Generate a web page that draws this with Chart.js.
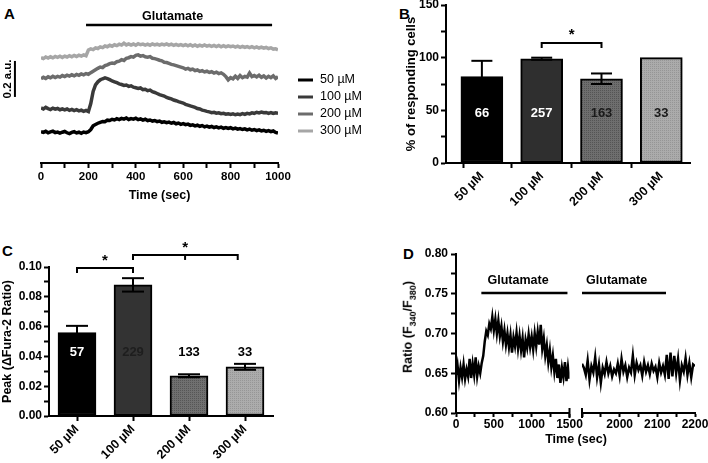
<!DOCTYPE html>
<html>
<head>
<meta charset="utf-8">
<script src="https://cdn.jsdelivr.net/npm/chart.js@4.4.0/dist/chart.umd.min.js"></script>
<style>
  body { margin: 0; background: #fff; width: 708px; height: 463px; position: relative; overflow: hidden; font-family: "Liberation Sans", Arial, sans-serif; }
  canvas { position: absolute; }
  .letra { position: absolute; font-weight: bold; font-size: 15px; line-height: 15px; }
  .txt { position: absolute; font-weight: bold; font-size: 12.5px; white-space: nowrap; transform: translate(-50%, -50%); }
  .txt sub { font-size: 9px; }
</style>
</head>
<body>
<div class="letra" style="left:4px;top:6px">A</div>
<div class="letra" style="left:399px;top:6px">B</div>
<div class="letra" style="left:2px;top:243px">C</div>
<div class="letra" style="left:403px;top:246px">D</div>

<canvas id="chartA" width="378" height="210" style="left:0;top:0"></canvas>
<canvas id="chartB" width="348" height="240" style="left:360px;top:0"></canvas>
<canvas id="chartC" width="360" height="223" style="left:0;top:240px"></canvas>
<canvas id="chartD1" width="232" height="223" style="left:360px;top:240px"></canvas>
<canvas id="chartD2" width="133" height="223" style="left:575px;top:240px"></canvas>

<div class="txt" style="left:409px;top:327px;transform:translate(-50%,-50%) rotate(-90deg)">Ratio (F<sub>340</sub>/F<sub>380</sub>)</div>
<div class="txt" style="left:576px;top:439px">Time (sec)</div>

<script>
const FUENTE = '"Liberation Sans", Arial, sans-serif';
Chart.defaults.font.family = FUENTE;
Chart.defaults.color = '#000';

// ---------- Panel A: trazas ----------
const tiempoA = [0,10,20,30,40,50,60,70,80,90,100,110,120,130,140,150,160,170,180,190,200,210,220,230,240,250,260,270,280,290,300,310,320,330,340,350,360,370,380,390,400,410,420,430,440,450,460,470,480,490,500,510,520,530,540,550,560,570,580,590,600,610,620,630,640,650,660,670,680,690,700,710,720,730,740,750,760,770,780,790,800,810,820,830,840,850,860,870,880,890,900,910,920,930,940,950,960,970,980,990,1000];

const traza50 = [0.174,0.170,0.176,0.168,0.173,0.177,0.169,0.172,0.166,0.171,
  0.175,0.168,0.163,0.170,0.174,0.167,0.171,0.165,0.172,0.169,
  0.174,0.186,0.207,0.214,0.221,0.226,0.231,0.229,0.238,0.236,
  0.243,0.239,0.246,0.241,0.248,0.244,0.250,0.242,0.247,0.244,
  0.249,0.241,0.245,0.238,0.243,0.236,0.239,0.233,0.236,0.230,
  0.233,0.226,0.229,0.224,0.227,0.221,0.225,0.218,0.222,0.215,
  0.219,0.213,0.216,0.209,0.212,0.206,0.210,0.204,0.208,0.201,
  0.205,0.199,0.203,0.197,0.201,0.195,0.199,0.193,0.197,0.192,
  0.196,0.190,0.194,0.188,0.191,0.186,0.190,0.184,0.188,0.182,
  0.186,0.180,0.184,0.178,0.182,0.176,0.180,0.174,0.178,0.170,
  0.166];

const traza100 = [0.306,0.300,0.309,0.302,0.297,0.305,0.299,0.303,0.296,0.301,
  0.295,0.300,0.293,0.298,0.291,0.296,0.290,0.294,0.287,0.292,
  0.286,0.330,0.398,0.434,0.451,0.462,0.468,0.473,0.469,0.463,
  0.456,0.451,0.446,0.440,0.436,0.431,0.433,0.426,0.429,0.421,
  0.418,0.414,0.417,0.408,0.410,0.402,0.405,0.396,0.392,0.386,
  0.380,0.376,0.372,0.364,0.360,0.356,0.350,0.346,0.341,0.337,
  0.333,0.326,0.322,0.317,0.313,0.309,0.303,0.300,0.294,0.291,
  0.287,0.284,0.280,0.282,0.277,0.279,0.274,0.276,0.271,0.274,
  0.270,0.273,0.268,0.272,0.269,0.274,0.270,0.276,0.273,0.279,
  0.276,0.282,0.278,0.283,0.279,0.281,0.276,0.280,0.275,0.279,
  0.277];

const traza200 = [0.468,0.476,0.470,0.479,0.473,0.482,0.475,0.481,0.477,0.486,
  0.480,0.488,0.483,0.490,0.484,0.492,0.487,0.495,0.490,0.497,
  0.493,0.502,0.510,0.518,0.526,0.533,0.530,0.541,0.545,0.552,
  0.556,0.553,0.563,0.566,0.574,0.570,0.582,0.585,0.591,0.588,
  0.598,0.601,0.594,0.597,0.590,0.588,0.591,0.582,0.580,0.576,
  0.571,0.568,0.560,0.558,0.553,0.548,0.545,0.541,0.537,0.533,
  0.529,0.522,0.526,0.518,0.522,0.513,0.517,0.509,0.513,0.506,
  0.510,0.503,0.507,0.500,0.505,0.497,0.501,0.493,0.480,0.462,
  0.474,0.468,0.482,0.470,0.486,0.474,0.481,0.477,0.500,0.480,
  0.486,0.478,0.488,0.476,0.484,0.472,0.482,0.474,0.484,0.470,
  0.479];

const traza300 = [0.586,0.580,0.589,0.583,0.590,0.584,0.592,0.587,0.593,0.586,
  0.594,0.589,0.596,0.590,0.598,0.592,0.599,0.594,0.601,0.596,
  0.628,0.634,0.630,0.640,0.636,0.645,0.641,0.650,0.646,0.654,
  0.649,0.657,0.652,0.660,0.655,0.666,0.656,0.662,0.655,0.661,
  0.654,0.663,0.657,0.661,0.655,0.660,0.654,0.662,0.656,0.660,
  0.655,0.661,0.656,0.662,0.655,0.660,0.654,0.659,0.653,0.658,
  0.652,0.658,0.651,0.657,0.650,0.656,0.649,0.655,0.650,0.656,
  0.649,0.654,0.648,0.653,0.647,0.653,0.646,0.652,0.645,0.651,
  0.646,0.650,0.644,0.649,0.643,0.648,0.642,0.647,0.641,0.646,
  0.640,0.645,0.639,0.644,0.638,0.642,0.636,0.640,0.633,0.635,
  0.628];

const etiquetasA = ['50 µM', '100 µM', '200 µM', '300 µM'];
const coloresA = ['#000000', '#3a3a3a', '#6c6c6c', '#a6a6a6'];
const glutamatoA = [190, 975];

// ---------- Panel B: % de células que responden ----------
const categorias = ['50 µM', '100 µM', '200 µM', '300 µM'];
const respuestaB = [82, 99, 80, 100];
const errorB = [15, 1, 5, 0];
const nB = ['66', '257', '163', '33'];

// ---------- Panel C: pico ΔFura-2 ----------
const picoC = [0.056, 0.088, 0.027, 0.033];
const errorC = [0.0045, 0.0045, 0.001, 0.002];
const nC = ['57', '229', '133', '33'];

// ---------- Panel D: traza con eje cortado ----------
const tiempoD1 = [0,20,40,60,80,100,120,140,160,180,200,220,240,260,280,300,320,340,360,380,400,420,440,460,480,500,520,540,560,580,600,620,640,660,680,700,720,740,760,780,800,820,840,860,880,900,920,940,960,980,1000,1020,1040,1060,1080,1100,1120,1140,1160,1180,1200,1220,1240,1260,1280,1300,1320,1340,1360,1380,1400,1420,1440,1460,1480,1500];
const trazaD1 = [0.648,0.660,0.641,0.657,0.645,0.661,0.643,0.655,0.646,0.668,
  0.644,0.662,0.648,0.670,0.646,0.659,0.650,0.663,0.672,0.690,
  0.703,0.698,0.712,0.706,0.721,0.704,0.718,0.700,0.716,0.697,
  0.709,0.690,0.704,0.686,0.700,0.683,0.698,0.676,0.695,0.684,
  0.701,0.681,0.697,0.679,0.694,0.670,0.692,0.682,0.699,0.683,
  0.696,0.680,0.700,0.684,0.702,0.686,0.711,0.681,0.694,0.672,
  0.685,0.664,0.679,0.658,0.672,0.652,0.668,0.644,0.661,0.638,
  0.657,0.645,0.664,0.640,0.658,0.643];
const tiempoD2 = [1900,1905,1910,1915,1920,1925,1930,1935,1940,1945,1950,1955,1960,1965,1970,1975,1980,1985,1990,1995,2000,2005,2010,2015,2020,2025,2030,2035,2040,2045,2050,2055,2060,2065,2070,2075,2080,2085,2090,2095,2100,2105,2110,2115,2120,2125,2130,2135,2140,2145,2150,2155,2160,2165,2170,2175,2180,2185,2190,2195,2200];
const trazaD2 = [0.662,0.657,0.648,0.666,0.642,0.659,0.651,0.670,0.645,0.661,
  0.638,0.657,0.649,0.664,0.650,0.659,0.646,0.655,0.650,0.662,
  0.647,0.668,0.652,0.660,0.645,0.657,0.651,0.672,0.648,0.663,
  0.654,0.660,0.647,0.664,0.652,0.660,0.649,0.662,0.653,0.658,
  0.645,0.663,0.651,0.659,0.648,0.673,0.643,0.676,0.646,0.672,
  0.650,0.668,0.641,0.660,0.652,0.669,0.648,0.663,0.645,0.661,
  0.659];
const glutamatoD1 = [335, 1473];
const glutamatoD2 = [1900, 2123];
const centroTextoD = [820, 1992];

// ---------- utilidades ----------
function fuente(size, weight) {
  return { family: FUENTE, size: size, weight: weight || 'bold' };
}

// relleno punteado como el de GraphPad
function patron(idCanvas, fondo, punto) {
  const c = document.createElement('canvas');
  c.width = 2; c.height = 2;
  const g = c.getContext('2d');
  g.fillStyle = fondo; g.fillRect(0, 0, 2, 2);
  g.fillStyle = punto; g.fillRect(0, 0, 1, 1);
  return document.getElementById(idCanvas).getContext('2d').createPattern(c, 'repeat');
}

const ejeNegro = { display: true, color: '#000', width: 2 };
const marcas = { drawOnChartArea: false, drawTicks: true, tickLength: 5, tickColor: '#000', tickWidth: 2 };

function linea(ctx, x1, y1, x2, y2) {
  ctx.beginPath(); ctx.moveTo(x1, y1); ctx.lineTo(x2, y2); ctx.stroke();
}

function texto(ctx, t, x, y, size, color, weight) {
  ctx.font = (weight || 'bold') + ' ' + size + 'px ' + FUENTE;
  ctx.fillStyle = color || '#000';
  ctx.textAlign = 'center'; ctx.textBaseline = 'middle';
  ctx.fillText(t, x, y);
}

// barras de error + numeros dentro de las barras
function errores(valores, errs, ns, colNs, yNum, capW) {
  return {
    id: 'errores',
    afterDatasetsDraw(chart) {
      const { ctx, scales: { y } } = chart;
      const meta = chart.getDatasetMeta(0);
      ctx.save();
      ctx.strokeStyle = '#000'; ctx.lineWidth = 2;
      meta.data.forEach((bar, i) => {
        const v = valores[i];
        if (errs[i] > 0) {
          const yA = y.getPixelForValue(v + errs[i]);
          const yB = y.getPixelForValue(v - errs[i]);
          linea(ctx, bar.x, yA, bar.x, yB);
          linea(ctx, bar.x - capW / 2, yA, bar.x + capW / 2, yA);
          linea(ctx, bar.x - capW / 2, yB, bar.x + capW / 2, yB);
        }
        texto(ctx, ns[i], bar.x, y.getPixelForValue(yNum), 13, colNs[i]);
      });
      ctx.restore();
    }
  };
}

// ---------- Chart A ----------
const pluginA = {
  id: 'extrasA',
  afterDraw(chart) {
    const { ctx, scales: { x, y }, chartArea } = chart;
    ctx.save();
    ctx.strokeStyle = '#000'; ctx.lineWidth = 2.5;
    const yb = y.getPixelForValue(0.767);
    linea(ctx, x.getPixelForValue(glutamatoA[0]), yb, x.getPixelForValue(glutamatoA[1]), yb);
    texto(ctx, 'Glutamate', x.getPixelForValue(555), y.getPixelForValue(0.814), 12.5);
    // barra de escala 0.2 a.u.
    ctx.lineWidth = 2;
    const xe = x.getPixelForValue(-110);
    linea(ctx, xe, y.getPixelForValue(0.367), xe, y.getPixelForValue(0.567));
    ctx.save();
    ctx.translate(x.getPixelForValue(-140), y.getPixelForValue(0.467));
    ctx.rotate(-Math.PI / 2);
    texto(ctx, '0.2 a.u.', 0, 0, 11.5);
    ctx.restore();
    // leyenda
    chart.data.datasets.forEach((ds, i) => {
      const yy = chartArea.top + 50 + i * 17;
      ctx.strokeStyle = ds.borderColor; ctx.lineWidth = 3;
      linea(ctx, chartArea.right + 20, yy, chartArea.right + 35, yy);
      ctx.font = '12.5px ' + FUENTE; ctx.fillStyle = '#000';
      ctx.textAlign = 'left'; ctx.textBaseline = 'middle';
      ctx.fillText(ds.label, chartArea.right + 42, yy);
    });
    ctx.restore();
  }
};

new Chart(document.getElementById('chartA'), {
  type: 'line',
  data: {
    datasets: [traza50, traza100, traza200, traza300].map((tr, i) => ({
      label: etiquetasA[i],
      data: tiempoA.map((t, k) => ({ x: t, y: tr[k] })),
      borderColor: coloresA[i],
      borderWidth: 3.5,
      pointRadius: 0,
      tension: 0
    }))
  },
  options: {
    responsive: false, animation: false,
    layout: { padding: { left: 41, right: 100, top: 30, bottom: 0 } },
    plugins: { legend: { display: false }, tooltip: { enabled: false } },
    scales: {
      x: {
        type: 'linear', min: 0, max: 1000,
        afterFit: s => { s.height = 47; s.paddingLeft = 0; s.paddingRight = 0; },
        border: ejeNegro, grid: marcas,
        ticks: { stepSize: 100, autoSkip: false, maxRotation: 0, padding: 2, font: fuente(11.5),
          callback: v => (v % 200 === 0 ? String(v) : '') },
        title: { display: true, text: 'Time (sec)', font: fuente(12.5), padding: { top: 0, bottom: 7 } }
      },
      y: { display: false, min: 0, max: 0.739 }
    }
  },
  plugins: [pluginA]
});

// ---------- Chart B ----------
const pluginB = {
  id: 'corcheteB',
  afterDraw(chart) {
    const { ctx, scales: { x, y } } = chart;
    const yc = y.getPixelForValue(114);
    const x1 = x.getPixelForValue(1), x2 = x.getPixelForValue(2);
    ctx.save();
    ctx.strokeStyle = '#000'; ctx.lineWidth = 2;
    ctx.beginPath(); ctx.moveTo(x1, yc + 5); ctx.lineTo(x1, yc); ctx.lineTo(x2, yc); ctx.lineTo(x2, yc + 5); ctx.stroke();
    texto(ctx, '*', (x1 + x2) / 2, yc - 8, 15);
    ctx.restore();
  }
};

new Chart(document.getElementById('chartB'), {
  type: 'bar',
  data: {
    datasets: [{
      data: respuestaB.map((v, i) => ({ x: i, y: v })),
      backgroundColor: ['#000000', '#2f2f2f', patron('chartB', '#6e6e6e', '#545454'), patron('chartB', '#ababab', '#959595')],
      borderColor: '#000', borderWidth: 2, borderSkipped: false,
      barThickness: 42
    }]
  },
  options: {
    responsive: false, animation: false,
    layout: { padding: { left: 0, right: 18, top: 5, bottom: 0 } },
    plugins: { legend: { display: false }, tooltip: { enabled: false } },
    scales: {
      x: {
        type: 'linear', min: -0.6, max: 3.48, offset: false,
        afterFit: s => { s.height = 77; s.paddingLeft = 0; s.paddingRight = 0; },
        border: ejeNegro,
        grid: Object.assign({}, marcas, { tickColor: c => (c.tick && Number.isInteger(c.tick.value) ? '#000' : 'rgba(0,0,0,0)') }),
        ticks: { stepSize: 1, autoSkip: false, minRotation: 45, maxRotation: 45, padding: 1, font: fuente(12.5),
          callback: v => (Number.isInteger(v) ? categorias[v] : '') }
      },
      y: {
        min: 0, max: 150,
        afterFit: s => { s.width = 86; s.paddingTop = 0; s.paddingBottom = 0; },
        border: ejeNegro, grid: marcas,
        ticks: { stepSize: 25, autoSkip: false, padding: 2, font: fuente(12),
          callback: v => (v % 50 === 0 ? String(v) : '') },
        title: { display: true, text: '% of responding cells', font: fuente(13), padding: { top: 44, bottom: 0 } }
      }
    }
  },
  plugins: [errores(respuestaB, errorB, nB, ['#fff', '#fff', '#1a1a1a', '#1a1a1a'], 47, 21), pluginB]
});

// ---------- Chart C ----------
const corchetesC = [
  { desde: 0, hasta: 1, medio: null, valor: 0.0993 },
  { desde: 1, hasta: 2.87, medio: 1.93, valor: 0.1081 }
];
const pluginC = {
  id: 'corchetesC',
  afterDraw(chart) {
    const { ctx, scales: { x, y } } = chart;
    ctx.save();
    ctx.strokeStyle = '#000'; ctx.lineWidth = 2;
    corchetesC.forEach(c => {
      const yc = y.getPixelForValue(c.valor);
      const x1 = x.getPixelForValue(c.desde), x2 = x.getPixelForValue(c.hasta);
      ctx.beginPath(); ctx.moveTo(x1, yc + 5); ctx.lineTo(x1, yc); ctx.lineTo(x2, yc); ctx.lineTo(x2, yc + 5); ctx.stroke();
      let xs = (x1 + x2) / 2;
      if (c.medio !== null) {
        xs = x.getPixelForValue(c.medio);
        linea(ctx, xs, yc, xs, yc + 5);
      }
      texto(ctx, '*', xs, yc - 7, 15);
    });
    ctx.restore();
  }
};

new Chart(document.getElementById('chartC'), {
  type: 'bar',
  data: {
    labels: categorias,
    datasets: [{
      data: picoC,
      backgroundColor: ['#000000', '#333333', patron('chartC', '#707070', '#565656'), patron('chartC', '#acacac', '#969696')],
      borderColor: '#000', borderWidth: 2, borderSkipped: false,
      barThickness: 38
    }]
  },
  options: {
    responsive: false, animation: false,
    layout: { padding: { left: 0, right: 87, top: 27, bottom: 0 } },
    plugins: { legend: { display: false }, tooltip: { enabled: false } },
    scales: {
      x: {
        afterFit: s => { s.height = 47; s.paddingLeft = 0; s.paddingRight = 0; },
        border: ejeNegro,
        grid: Object.assign({}, marcas, { offset: false }),
        ticks: { autoSkip: false, minRotation: 45, maxRotation: 45, padding: 1, font: fuente(12.5) }
      },
      y: {
        min: 0, max: 0.1,
        afterFit: s => { s.width = 49; s.paddingTop = 0; s.paddingBottom = 0; },
        border: ejeNegro, grid: marcas,
        ticks: { stepSize: 0.01, autoSkip: false, padding: 2, font: fuente(12),
          callback: v => (Math.round(v * 100) % 2 === 0 ? v.toFixed(2) : '') },
        title: { display: true, text: 'Peak (ΔFura-2 Ratio)', font: fuente(12.5), padding: { top: 0, bottom: 0 } }
      }
    }
  },
  plugins: [errores(picoC, errorC, nC, ['#fff', '#1e1e1e', '#000', '#000'], 0.043, 22), pluginC]
});

// ---------- Chart D (dos tramos) ----------
function pluginGlutamato(periodo, centroTexto, lado) {
  return {
    id: 'glutamato',
    afterDraw(chart) {
      const { ctx, scales: { x, y }, chartArea } = chart;
      ctx.save();
      ctx.strokeStyle = '#000'; ctx.lineWidth = 2.5;
      const yb = y.getPixelForValue(0.751);
      linea(ctx, x.getPixelForValue(periodo[0]), yb, x.getPixelForValue(periodo[1]), yb);
      texto(ctx, 'Glutamate', x.getPixelForValue(centroTexto), y.getPixelForValue(0.766), 12.5);
      // marca del corte del eje
      ctx.lineWidth = 2;
      const xc = lado === 'derecha' ? chartArea.right : chartArea.left;
      linea(ctx, xc, chartArea.bottom - 5, xc, chartArea.bottom + 5);
      ctx.restore();
    }
  };
}

const escalaYD = { min: 0.6, max: 0.8 };
const marcasD = Object.assign({}, marcas, { tickLength: 4 });

new Chart(document.getElementById('chartD1'), {
  type: 'line',
  data: {
    datasets: [{ data: tiempoD1.map((t, k) => ({ x: t, y: trazaD1[k] })), borderColor: '#000', borderWidth: 2.5, pointRadius: 0, tension: 0 }]
  },
  options: {
    responsive: false, animation: false,
    layout: { padding: { left: 0, right: 22.5, top: 14, bottom: 0 } },
    plugins: { legend: { display: false }, tooltip: { enabled: false } },
    scales: {
      x: {
        type: 'linear', min: 0, max: 1500,
        afterFit: s => { s.height = 50; s.paddingLeft = 0; s.paddingRight = 0; },
        border: ejeNegro, grid: marcasD,
        ticks: { stepSize: 250, autoSkip: false, maxRotation: 0, padding: 0, font: fuente(12),
          callback: v => (v % 500 === 0 ? String(v) : '') }
      },
      y: {
        min: escalaYD.min, max: escalaYD.max,
        afterFit: s => { s.width = 96; s.paddingTop = 0; s.paddingBottom = 0; },
        border: ejeNegro, grid: marcas,
        ticks: { stepSize: 0.025, autoSkip: false, padding: 3, font: fuente(12),
          callback: v => (Math.round(v * 1000) % 50 === 0 ? v.toFixed(2) : '') }
      }
    }
  },
  plugins: [pluginGlutamato(glutamatoD1, centroTextoD[0], 'derecha')]
});

new Chart(document.getElementById('chartD2'), {
  type: 'line',
  data: {
    datasets: [{ data: tiempoD2.map((t, k) => ({ x: t, y: trazaD2[k] })), borderColor: '#000', borderWidth: 2.5, pointRadius: 0, tension: 0 }]
  },
  options: {
    responsive: false, animation: false,
    layout: { padding: { left: 7, right: 13, top: 14, bottom: 0 } },
    plugins: { legend: { display: false }, tooltip: { enabled: false } },
    scales: {
      x: {
        type: 'linear', min: 1900, max: 2200,
        afterFit: s => { s.height = 50; s.paddingLeft = 0; s.paddingRight = 0; },
        border: ejeNegro, grid: marcasD,
        ticks: { stepSize: 50, autoSkip: false, maxRotation: 0, padding: 0, font: fuente(12),
          callback: v => (v % 100 === 0 && v > 1900 ? String(v) : '') }
      },
      y: { display: false, min: escalaYD.min, max: escalaYD.max }
    }
  },
  plugins: [pluginGlutamato(glutamatoD2, centroTextoD[1], 'izquierda')]
});
</script>
</body>
</html>
